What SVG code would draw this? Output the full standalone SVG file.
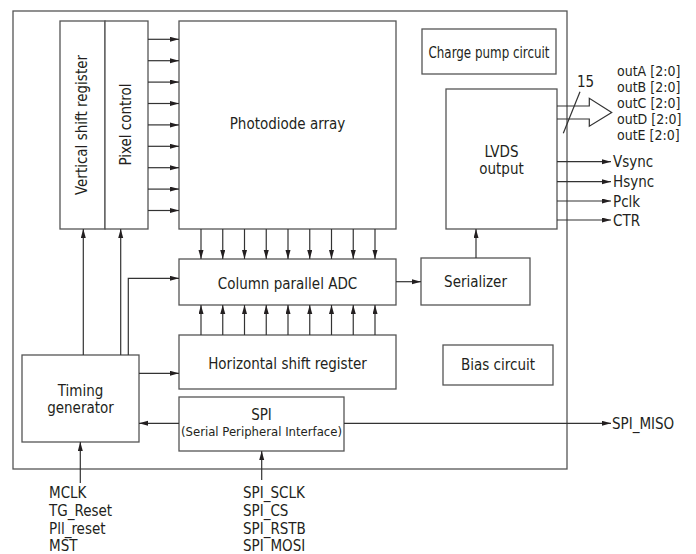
<svg xmlns="http://www.w3.org/2000/svg" width="696" height="554" viewBox="0 0 696 554">
<defs>
<marker id="ah" markerUnits="userSpaceOnUse" markerWidth="10" markerHeight="6" refX="9" refY="2.5" orient="auto">
<path d="M0,0 L9,2.5 L0,5 z" fill="#231f20"/>
</marker>
<style>
.box{fill:#fff;stroke:#555;stroke-width:1.3}
.ln{fill:none;stroke:#333;stroke-width:1.2}
.ar{fill:none;stroke:#333;stroke-width:1.2;marker-end:url(#ah)}
text{font-family:"DejaVu Sans Condensed","Liberation Sans",sans-serif;font-stretch:condensed;font-size:15px;fill:#231f20}
.c{text-anchor:middle}
.s{font-size:13px}
.o{font-size:14px}
</style>
</defs>
<rect width="696" height="554" fill="#fff"/>
<rect id="frame" x="13" y="11" width="554" height="458" fill="none" stroke="#555" stroke-width="1.3"/>

<g id="vsr"><rect class="box" x="60" y="21" width="45" height="208"/><text class="c" transform="translate(87,125) rotate(-90)">Vertical shift register</text></g>
<g id="pixel"><rect class="box" x="105" y="21" width="43" height="208"/><text class="c" transform="translate(131,124.5) rotate(-90)">Pixel control</text></g>
<g id="photodiode"><rect class="box" x="179" y="21" width="217" height="208"/><text class="c" x="287.5" y="129">Photodiode array</text></g>
<g id="chargepump"><rect class="box" x="422" y="29" width="134" height="45"/><text class="c" x="489" y="57.5" textLength="121" lengthAdjust="spacingAndGlyphs">Charge pump circuit</text></g>
<g id="lvds"><rect class="box" x="446" y="89" width="111" height="140"/><text class="c" x="501.5" y="157">LVDS</text><text class="c" x="501.5" y="174">output</text></g>
<g id="adc"><rect class="box" x="179" y="259" width="217" height="46"/><text class="c" x="287.5" y="289">Column parallel ADC</text></g>
<g id="serializer"><rect class="box" x="421" y="258" width="109" height="47"/><text class="c" x="475.5" y="286.5">Serializer</text></g>
<g id="hsr"><rect class="box" x="179" y="335" width="217" height="54"/><text class="c" x="287.5" y="369">Horizontal shift register</text></g>
<g id="bias"><rect class="box" x="443" y="345" width="110" height="40"/><text class="c" x="498" y="370">Bias circuit</text></g>
<g id="timing"><rect class="box" x="22" y="355" width="117" height="87"/><text class="c" x="80.5" y="396">Timing</text><text class="c" x="80.5" y="413">generator</text></g>
<g id="spi"><rect class="box" x="179" y="397" width="165" height="54"/><text class="c" x="261.5" y="420">SPI</text><text class="c s" x="261.5" y="436">(Serial Peripheral Interface)</text></g>

<g id="connectors">
<line class="ar" x1="148" y1="39.3" x2="179" y2="39.3"/>
<line class="ar" x1="148" y1="60.7" x2="179" y2="60.7"/>
<line class="ar" x1="148" y1="82.1" x2="179" y2="82.1"/>
<line class="ar" x1="148" y1="103.5" x2="179" y2="103.5"/>
<line class="ar" x1="148" y1="124.9" x2="179" y2="124.9"/>
<line class="ar" x1="148" y1="146.3" x2="179" y2="146.3"/>
<line class="ar" x1="148" y1="167.7" x2="179" y2="167.7"/>
<line class="ar" x1="148" y1="189.1" x2="179" y2="189.1"/>
<line class="ar" x1="148" y1="210.5" x2="179" y2="210.5"/>

<line class="ar" x1="201" y1="229" x2="201" y2="259"/>
<line class="ar" x1="222.75" y1="229" x2="222.75" y2="259"/>
<line class="ar" x1="244.5" y1="229" x2="244.5" y2="259"/>
<line class="ar" x1="266.25" y1="229" x2="266.25" y2="259"/>
<line class="ar" x1="288" y1="229" x2="288" y2="259"/>
<line class="ar" x1="309.75" y1="229" x2="309.75" y2="259"/>
<line class="ar" x1="331.5" y1="229" x2="331.5" y2="259"/>
<line class="ar" x1="353.25" y1="229" x2="353.25" y2="259"/>
<line class="ar" x1="375" y1="229" x2="375" y2="259"/>

<line class="ar" x1="201" y1="335" x2="201" y2="305"/>
<line class="ar" x1="222.75" y1="335" x2="222.75" y2="305"/>
<line class="ar" x1="244.5" y1="335" x2="244.5" y2="305"/>
<line class="ar" x1="266.25" y1="335" x2="266.25" y2="305"/>
<line class="ar" x1="288" y1="335" x2="288" y2="305"/>
<line class="ar" x1="309.75" y1="335" x2="309.75" y2="305"/>
<line class="ar" x1="331.5" y1="335" x2="331.5" y2="305"/>
<line class="ar" x1="353.25" y1="335" x2="353.25" y2="305"/>
<line class="ar" x1="375" y1="335" x2="375" y2="305"/>

<line class="ar" x1="83.3" y1="355" x2="83.3" y2="229"/>
<line class="ar" x1="120.7" y1="355" x2="120.7" y2="229"/>
<path class="ar" d="M128.3,355V278.3H179"/>
<line class="ar" x1="139" y1="373.3" x2="179" y2="373.3"/>
<line class="ar" x1="179" y1="423.3" x2="139" y2="423.3"/>
<line class="ar" x1="344" y1="423.3" x2="611" y2="423.3"/>
<line class="ar" x1="80.3" y1="483" x2="80.3" y2="442"/>
<line class="ar" x1="261.7" y1="480" x2="261.7" y2="451"/>
<line class="ar" x1="396" y1="281.7" x2="421" y2="281.7"/>
<line class="ar" x1="476" y1="258" x2="476" y2="229"/>
<line class="ar" x1="557" y1="161.7" x2="611" y2="161.7"/>
<line class="ar" x1="557" y1="181.7" x2="611" y2="181.7"/>
<line class="ar" x1="557" y1="201" x2="611" y2="201"/>
<line class="ar" x1="557" y1="220" x2="611" y2="220"/>
<path class="ln" d="M557,106H589.3V98.3L611.7,112.5L589.3,126.3V119H557"/>
<line class="ln" x1="563.3" y1="133.3" x2="580" y2="91.7"/>
</g>

<g id="labels">
<text x="577" y="87">15</text>
<text class="o" x="617" y="76">outA [2:0]</text>
<text class="o" x="617" y="92">outB [2:0]</text>
<text class="o" x="617" y="108">outC [2:0]</text>
<text class="o" x="617" y="124">outD [2:0]</text>
<text class="o" x="617" y="140">outE [2:0]</text>
<text x="613" y="167">Vsync</text>
<text x="613" y="187">Hsync</text>
<text x="613" y="206.5">Pclk</text>
<text x="613" y="225.5">CTR</text>
<text x="612" y="429">SPI_MISO</text>
<text x="49" y="498">MCLK</text>
<text x="49" y="516">TG_Reset</text>
<text x="49" y="534">Pll_reset</text>
<text x="49" y="551">MST</text>
<text x="243" y="498">SPI_SCLK</text>
<text x="243" y="516">SPI_CS</text>
<text x="243" y="534">SPI_RSTB</text>
<text x="243" y="551">SPI_MOSI</text>
</g>
</svg>
